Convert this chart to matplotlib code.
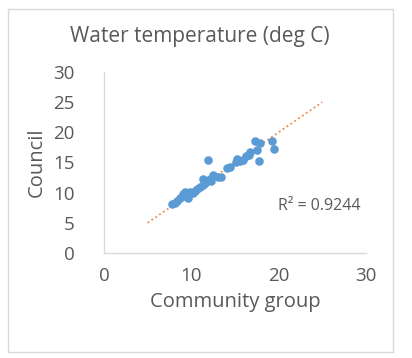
import matplotlib
matplotlib.use("Agg")
import matplotlib.pyplot as plt
import numpy as np
from matplotlib.patches import Rectangle

plt.rcParams['font.family'] = ['Open Sans', 'DejaVu Sans']

title = "Water temperature (deg C)"
x_label = "Community group"
y_label = "Council"
community = [7.8, 8.1, 8.4, 8.7, 9.1, 9.3, 9.6, 9.9, 10.2, 10.6, 11.0, 11.3, 11.6, 11.8, 12.1,
             12.5, 13.1, 11.9, 14.1, 14.4, 15.1, 15.4, 15.6, 15.9, 16.3, 16.6, 16.7, 17.5,
             17.3, 17.9, 17.8, 19.2, 19.5, 12.3, 10.4, 9.0, 15.2, 11.4, 13.4]
council = [8.1, 8.3, 8.6, 9.1, 9.5, 10.1, 9.1, 10.1, 10.0, 10.6, 11.0, 11.3, 11.6, 11.9, 12.3,
           12.9, 12.6, 15.4, 14.1, 14.3, 15.0, 15.4, 15.2, 15.4, 16.0, 16.3, 16.7, 17.1,
           18.6, 18.2, 15.3, 18.6, 17.2, 12.0, 10.3, 9.8, 15.6, 12.2, 12.6]
r2_text = "R² = 0.9244"
x_ticks = [0, 10, 20, 30]
y_ticks = [0, 5, 10, 15, 20, 25, 30]
trend_range = [5, 25]

fig = plt.figure(figsize=(4.12, 3.58), dpi=100)
ax = fig.add_axes([0.2524, 0.2933, 0.6356, 0.5056])

grey = "#595959"
ax.scatter(community, council, s=38, color="#5b9bd5", zorder=3, linewidths=0)
tx = np.array(trend_range, dtype=float)
ax.plot(tx, tx, linestyle=(0, (1, 1.6)), color="#ed7d31", linewidth=1.3, zorder=2, alpha=0.9)

ax.set_xlim(0, 30)
ax.set_ylim(0, 30)
ax.set_xticks(x_ticks)
ax.set_yticks(y_ticks)
ax.tick_params(length=0, labelsize=13.5, labelcolor=grey)
ax.tick_params(axis='x', pad=10)
ax.tick_params(axis='y', pad=21)
for s in ['top', 'right']:
    ax.spines[s].set_visible(False)
for s in ['left', 'bottom']:
    ax.spines[s].set_color("#d9d9d9")
    ax.spines[s].set_linewidth(1)

ax.set_xlabel(x_label, fontsize=14.5, color=grey, labelpad=5)
ax.set_ylabel(y_label, fontsize=14.5, color=grey, labelpad=5)
ax.text(0.98, 0.26, r2_text, transform=ax.transAxes, ha='right', va='center',
        fontsize=11.5, color=grey)
fig.text(0.485, 0.898, title, ha='center', va='center', fontsize=15, color=grey)

fig.patches.append(Rectangle((8/412, 1-352/358), 385/412, 343/358, transform=fig.transFigure,
                             fill=False, edgecolor="#d9d9d9", linewidth=1))

fig.savefig("out.png", dpi=100, facecolor="white")
